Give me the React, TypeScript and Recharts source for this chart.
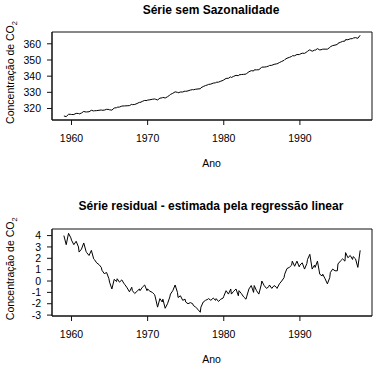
import { Line, LineChart, ReferenceArea, XAxis, YAxis } from "recharts"

const years = [
  1959, 1960, 1961, 1962, 1963, 1964, 1965, 1966, 1967, 1968, 1969, 1970, 1971,
  1972, 1973, 1974, 1975, 1976, 1977, 1978, 1979, 1980, 1981, 1982, 1983, 1984,
  1985, 1986, 1987, 1988, 1989, 1990, 1991, 1992, 1993, 1994, 1995, 1996, 1997,
]

// four readings per year, month offsets within the year
const monthOffsets = [0, 11 / 3, 22 / 3, 11]

// CO2 without seasonality (ppm), four per year
const deseasonalized = [
  315.4, 315.0, 316.4, 316.4,
  316.3, 316.3, 317.0, 316.9,
  316.6, 317.2, 318.2, 317.8,
  317.9, 318.0, 318.9, 318.5,
  318.6, 318.7, 318.9, 319.1,
  318.9, 319.0, 319.5, 319.4,
  319.2, 319.0, 320.3, 320.5,
  320.8, 320.9, 321.5, 321.6,
  321.6, 321.7, 321.8, 322.6,
  322.4, 322.5, 323.1, 323.8,
  323.7, 324.4, 325.0, 324.9,
  325.2, 325.4, 325.7, 325.9,
  325.8, 325.3, 326.4, 326.6,
  326.9, 326.5, 327.3, 328.3,
  328.7, 329.4, 330.3, 330.0,
  329.7, 330.2, 330.2, 330.8,
  330.6, 330.9, 331.4, 331.7,
  331.6, 331.9, 332.1, 332.2,
  332.8, 333.6, 334.2, 334.7,
  334.9, 335.1, 335.7, 335.9,
  336.2, 336.3, 336.9, 337.4,
  337.7, 338.6, 338.7, 339.6,
  339.2, 339.9, 340.5, 340.3,
  340.8, 341.0, 341.1, 341.3,
  341.6, 342.7, 343.4, 343.2,
  343.9, 343.9, 344.0, 345.2,
  345.6, 345.6, 345.8, 346.3,
  346.6, 346.7, 347.3, 347.6,
  347.6, 348.4, 349.1, 349.8,
  350.2, 351.1, 351.6, 352.2,
  352.6, 352.6, 353.4, 353.3,
  353.6, 354.2, 354.1, 355.0,
  355.4, 356.3, 355.4, 356.1,
  356.0, 357.0, 356.2, 356.5,
  356.7, 356.7, 356.7, 357.7,
  358.2, 358.9, 359.2, 359.6,
  360.3, 360.9, 361.5, 361.7,
  362.6, 362.5, 363.1, 363.2,
  363.6, 363.8, 363.4, 365.3,
]

// residuals of the linear regression, four per year
const residual = [
  4.0, 3.2, 4.2, 3.8,
  3.6, 3.2, 3.5, 3.0,
  2.55, 2.8, 3.35, 2.6,
  2.5, 2.25, 2.7, 1.95,
  1.9, 1.6, 1.45, 1.2,
  0.95, 0.65, 0.75, 0.2,
  -0.1, -0.7, 0.15, -0.05,
  0.2, -0.1, 0.1, -0.25,
  -0.3, -0.6, -0.95, -0.55,
  -0.85, -1.1, -0.9, -0.7,
  -0.85, -0.55, -0.35, -0.85,
  -0.7, -0.9, -1.0, -1.2,
  -1.4, -2.3, -1.55, -1.85,
  -1.6, -2.4, -2.0, -1.4,
  -1.15, -0.85, -0.35, -1.0,
  -1.45, -1.3, -1.7, -1.6,
  -1.85, -2.0, -1.9, -2.0,
  -2.15, -2.3, -2.5, -2.75,
  -2.3, -1.85, -1.7, -1.6,
  -1.55, -1.7, -1.5, -1.7,
  -1.55, -1.8, -1.6, -1.5,
  -1.35, -0.85, -1.15, -0.7,
  -1.15, -0.9, -0.7, -1.3,
  -0.85, -1.1, -1.4, -1.6,
  -1.4, -0.7, -0.4, -1.0,
  -0.4, -0.85, -1.15, -0.35,
  0.0, -0.4, -0.65, -0.5,
  -0.35, -0.65, -0.4, -0.55,
  -0.65, -0.25, 0.0, 0.3,
  0.6, 1.1, 1.2, 1.4,
  1.75, 1.3, 1.75, 1.25,
  1.4, 1.6, 1.05, 1.55,
  1.9, 2.35, 1.05, 1.4,
  1.2, 1.75, 0.6, 0.45,
  0.6, 0.2, -0.25, 0.3,
  0.75, 1.05, 0.9, 0.9,
  1.5, 1.75, 1.95, 1.75,
  2.5, 2.05, 2.25, 1.9,
  2.15, 1.95, 1.2, 2.7,
]

const yearTicks = [1960, 1970, 1980, 1990]
const co2Ticks = [320, 330, 340, 350, 360]
const residualTicks = [-3, -2, -1, 0, 1, 2, 3, 4]

const rows = years.flatMap((year, i) =>
  monthOffsets.map((m, q) => ({
    t: year + m / 12,
    co2: deseasonalized[i * 4 + q],
    res: residual[i * 4 + q],
  }))
)

const FONT = '"Liberation Sans", Arial, sans-serif'
const INK = "#111"
const xDomain: [number, number] = [1957.44, 1999.47]

function Panel({
  dataKey,
  domain,
  ticks,
  height,
  top,
  bottom,
}: {
  dataKey: string
  domain: [number, number]
  ticks: number[]
  height: number
  top: number
  bottom: number
}) {
  const tick = { fill: "#000", fontSize: 10.5, fontFamily: FONT }
  return (
    <LineChart
      width={379}
      height={height}
      data={rows}
      margin={{ top, right: 7, bottom, left: 0 }}
    >
      <XAxis
        dataKey="t"
        type="number"
        domain={xDomain}
        allowDataOverflow
        ticks={yearTicks}
        interval={0}
        tick={tick}
        tickSize={5}
        tickMargin={10}
        height={30}
        stroke={INK}
      />
      <YAxis
        type="number"
        domain={domain}
        allowDataOverflow
        ticks={ticks}
        interval={0}
        tick={tick}
        tickSize={5}
        tickMargin={6}
        width={52}
        stroke={INK}
      />
      {/* plot frame, like R's box() */}
      <ReferenceArea
        x1={xDomain[0]}
        x2={xDomain[1]}
        y1={domain[0]}
        y2={domain[1]}
        fill="none"
        fillOpacity={0}
        stroke={INK}
        strokeWidth={1}
        ifOverflow="visible"
      />
      <Line
        dataKey={dataKey}
        type="linear"
        stroke="#000"
        strokeWidth={1}
        dot={false}
        isAnimationActive={false}
      />
    </LineChart>
  )
}

function YLabel({ cy }: { cy: number }) {
  return (
    <text
      transform={`translate(13.5, ${cy}) rotate(-90)`}
      textAnchor="middle"
      fontSize={10.5}
      fontFamily={FONT}
      fill="#000"
    >
      Concentração de CO
      <tspan fontSize={7.5} dy={3}>
        2
      </tspan>
    </text>
  )
}

export default function App() {
  return (
    <div
      style={{
        position: "absolute",
        left: 0,
        top: 0,
        width: 379,
        height: 371,
        background: "#fff",
      }}
    >
      <div style={{ position: "absolute", left: 0, top: 0 }}>
        <Panel
          dataKey="co2"
          domain={[312.9, 367.3]}
          ticks={co2Ticks}
          height={185}
          top={32}
          bottom={35}
        />
      </div>
      <div style={{ position: "absolute", left: 0, top: 185 }}>
        <Panel
          dataKey="res"
          domain={[-3.08, 4.58]}
          ticks={residualTicks}
          height={186}
          top={44}
          bottom={25}
        />
      </div>
      <svg
        width={379}
        height={371}
        style={{ position: "absolute", left: 0, top: 0, pointerEvents: "none" }}
      >
        <text x={211} y={14} textAnchor="middle" fontSize={12} fontWeight="bold" fontFamily={FONT}>
          Série sem Sazonalidade
        </text>
        <text x={211} y={209.5} textAnchor="middle" fontSize={12} fontWeight="bold" fontFamily={FONT}>
          Série residual - estimada pela regressão linear
        </text>
        <text x={211.5} y={166.5} textAnchor="middle" fontSize={10.5} fontFamily={FONT}>
          Ano
        </text>
        <text x={211.5} y={362.5} textAnchor="middle" fontSize={10.5} fontFamily={FONT}>
          Ano
        </text>
        <YLabel cy={72.5} />
        <YLabel cy={268.8} />
      </svg>
    </div>
  )
}
